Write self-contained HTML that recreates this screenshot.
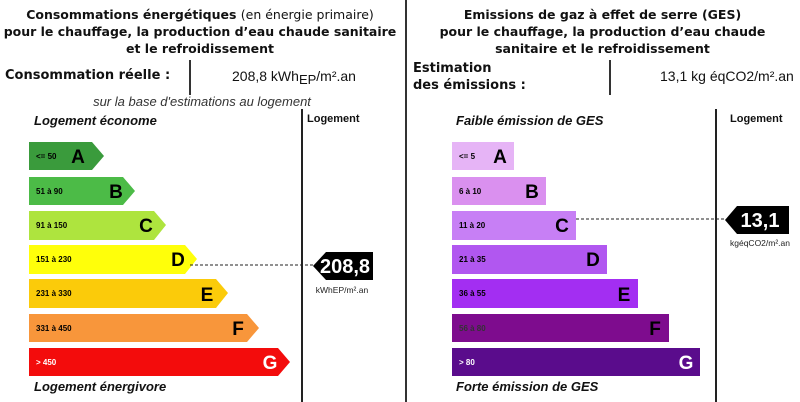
<!DOCTYPE html>
<html><head><meta charset="utf-8"><style>
body{margin:0;width:800px;height:402px;background:#fff;overflow:hidden;position:relative;font-family:"DejaVu Sans","Liberation Sans",sans-serif;color:#111}
.a{position:absolute;white-space:nowrap}
.t{font-weight:bold;font-size:12.5px;text-align:center;line-height:17px}
.ar{font-family:"Liberation Sans",Arial,sans-serif}
.bi{font-family:"Liberation Sans",Arial,sans-serif;font-weight:bold;font-style:italic;font-size:13px}
.lg{font-family:"Liberation Sans",Arial,sans-serif;font-weight:bold;font-size:11px}
</style></head><body>
<div class="a t" style="left:0;width:400px;top:6px">Consommations énergétiques <span style="font-weight:normal">(en énergie primaire)</span><br>pour le chauffage, la production d’eau chaude sanitaire<br>et le refroidissement</div>
<div class="a" style="left:5px;top:68px;font-weight:bold;font-size:13px">Consommation réelle :</div>
<div style="position:absolute;left:189px;top:60px;width:2px;height:35px;background:#333"></div>
<div class="a ar" style="left:232px;top:68px;font-size:14px">208,8 kWh<span style="font-size:13px;vertical-align:-3px">EP</span>/m².an</div>
<div class="a ar" style="left:0;width:404px;text-align:center;top:94px;font-style:italic;font-size:13px;color:#333">sur la base d'estimations au logement</div>
<div class="a bi" style="left:34px;top:113px">Logement économe</div>
<div class="a bi" style="left:34px;top:379px">Logement énergivore</div>
<div class="a lg" style="left:307px;top:113px">Logement</div>
<div style="position:absolute;left:301px;top:109px;width:2px;height:293px;background:#222"></div>
<div style="position:absolute;left:405px;top:0;width:2px;height:402px;background:#333"></div>

<div class="a t" style="left:405px;width:395px;top:6px">Emissions de gaz à effet de serre (GES)<br>pour le chauffage, la production d’eau chaude<br>sanitaire et le refroidissement</div>
<div class="a" style="left:413px;top:60px;font-weight:bold;font-size:13px;line-height:17px">Estimation<br>des émissions :</div>
<div style="position:absolute;left:609px;top:60px;width:2px;height:35px;background:#333"></div>
<div class="a ar" style="left:660px;top:68px;font-size:14px">13,1 kg éqCO2/m².an</div>
<div class="a bi" style="left:456px;top:113px">Faible émission de GES</div>
<div class="a bi" style="left:456px;top:379px">Forte émission de GES</div>
<div class="a lg" style="left:730px;top:113px">Logement</div>
<div style="position:absolute;left:715px;top:109px;width:2px;height:293px;background:#222"></div>

<svg width="800" height="402" style="position:absolute;left:0;top:0" font-family="Liberation Sans,Arial,sans-serif">
<g font-weight="bold">
<polygon points="29,142 92,142 104,156 92,170 29,170" fill="#3a9b3c"/><text x="36" y="159" font-size="8">&lt;= 50</text><text x="78" y="163" font-size="19" text-anchor="middle">A</text>
<polygon points="29,177 123,177 135,191 123,205 29,205" fill="#4cbb47"/><text x="36" y="194" font-size="8">51 à 90</text><text x="116" y="198" font-size="19" text-anchor="middle">B</text>
<polygon points="29,211 154,211 166,225 154,240 29,240" fill="#aee43e"/><text x="36" y="228" font-size="8">91 à 150</text><text x="146" y="232" font-size="19" text-anchor="middle">C</text>
<polygon points="29,245 185,245 197,259 185,274 29,274" fill="#ffff0a"/><text x="36" y="262" font-size="8">151 à 230</text><text x="178" y="266" font-size="19" text-anchor="middle">D</text>
<polygon points="29,279 216,279 228,293 216,308 29,308" fill="#fbcb0a"/><text x="36" y="296" font-size="8">231 à 330</text><text x="207" y="301" font-size="19" text-anchor="middle">E</text>
<polygon points="29,314 247,314 259,328 247,342 29,342" fill="#f8963b"/><text x="36" y="331" font-size="8">331 à 450</text><text x="238" y="335" font-size="19" text-anchor="middle">F</text>
<polygon points="29,348 278,348 290,362 278,376 29,376" fill="#f30c0c"/><text x="36" y="365" font-size="8" fill="#fff">&gt; 450</text><text x="270" y="369" font-size="19" text-anchor="middle" fill="#fff">G</text>

<rect x="452" y="142" width="62" height="28" fill="#e6b4f6"/><text x="459" y="159" font-size="8">&lt;= 5</text><text x="500" y="163" font-size="19" text-anchor="middle">A</text>
<rect x="452" y="177" width="94" height="28" fill="#da90ef"/><text x="459" y="194" font-size="8">6 à 10</text><text x="532" y="198" font-size="19" text-anchor="middle">B</text>
<rect x="452" y="211" width="124" height="29" fill="#c77ff5"/><text x="459" y="228" font-size="8">11 à 20</text><text x="562" y="232" font-size="19" text-anchor="middle">C</text>
<rect x="452" y="245" width="155" height="29" fill="#b157f0"/><text x="459" y="262" font-size="8">21 à 35</text><text x="593" y="266" font-size="19" text-anchor="middle">D</text>
<rect x="452" y="279" width="186" height="29" fill="#a32ef2"/><text x="459" y="296" font-size="8">36 à 55</text><text x="624" y="301" font-size="19" text-anchor="middle">E</text>
<rect x="452" y="314" width="217" height="28" fill="#7e0c8e"/><text x="459" y="331" font-size="8" fill="#333">56 à 80</text><text x="655" y="335" font-size="19" text-anchor="middle">F</text>
<rect x="452" y="348" width="248" height="28" fill="#5a0c8c"/><text x="459" y="365" font-size="8" fill="#fff">&gt; 80</text><text x="686" y="369" font-size="19" text-anchor="middle" fill="#fff">G</text>

<line x1="190" y1="265" x2="313" y2="265" stroke="#222" stroke-dasharray="3,2"/>
<polygon points="313,266 326,252 373,252 373,280 326,280" fill="#000"/>
<text x="345" y="273" font-size="20" fill="#fff" text-anchor="middle">208,8</text>
<line x1="576" y1="219" x2="725" y2="219" stroke="#222" stroke-dasharray="3,2"/>
<polygon points="725,220 737,206 789,206 789,234 737,234" fill="#000"/>
<text x="760" y="227" font-size="20" fill="#fff" text-anchor="middle">13,1</text>
</g>
<text x="342" y="293" font-size="8.5" text-anchor="middle" fill="#222">kWhEP/m².an</text>
<text x="760" y="246" font-size="8.5" text-anchor="middle" fill="#222">kgéqCO2/m².an</text>
</svg>
</body></html>
